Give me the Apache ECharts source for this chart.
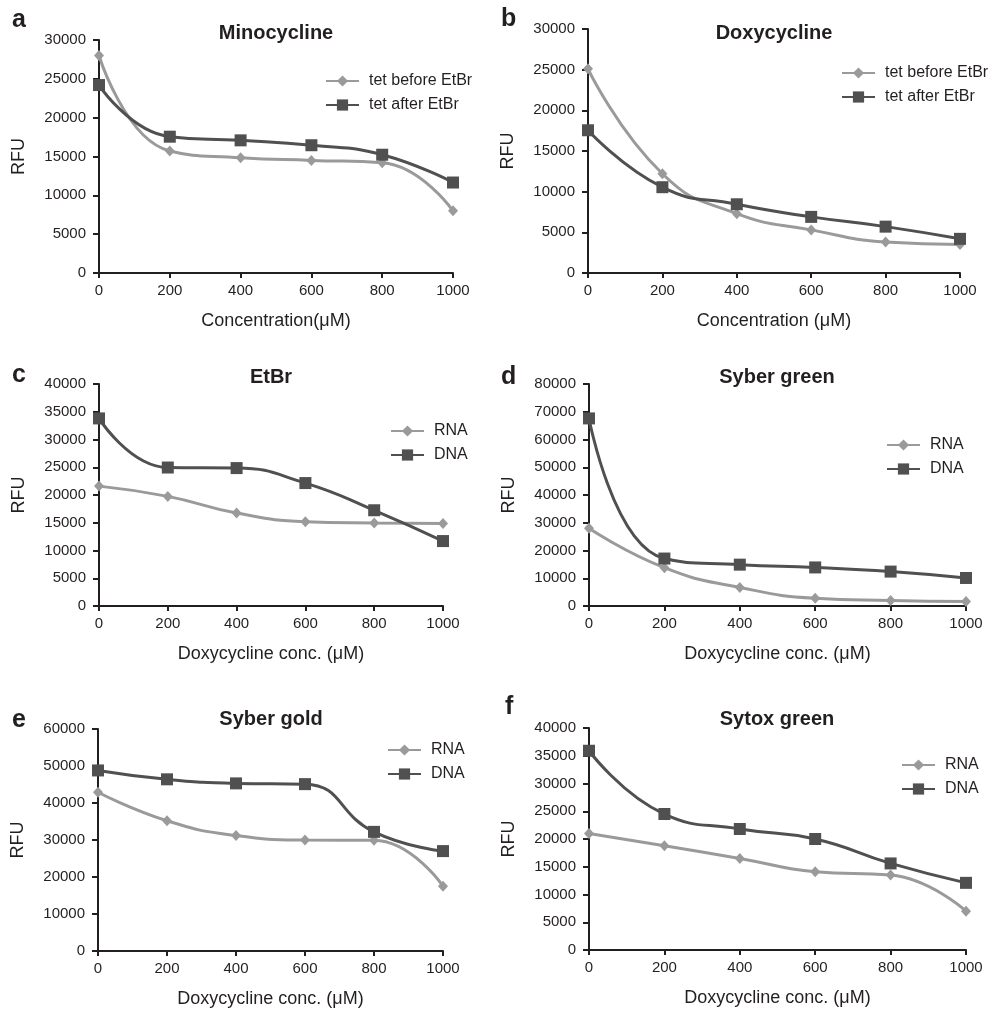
<!DOCTYPE html>
<html>
<head>
<meta charset="utf-8">
<script src="https://cdn.jsdelivr.net/npm/echarts@6/dist/echarts.min.js"></script>
<style>
  html, body { margin: 0; padding: 0; background: #fff; }
  #chart { width: 988px; height: 1009px; }
</style>
</head>
<body>
<div id="chart"></div>
<script>
// concentrations on the x axis (µM)
const conc = [0, 200, 400, 600, 800, 1000]

// a - Minocycline
const minoBefore = [28000, 15700, 14850, 14500, 14200, 8000]
const minoAfter = [24200, 17550, 17080, 16450, 15230, 11650]
// b - Doxycycline
const doxyBefore = [25100, 12200, 7300, 5300, 3800, 3500]
const doxyAfter = [17550, 10550, 8450, 6900, 5700, 4200]
// c - EtBr
const etbrRNA = [21600, 19750, 16750, 15200, 14950, 14850]
const etbrDNA = [33800, 24950, 24850, 22150, 17250, 11700]
// d - Syber green
const greenRNA = [28000, 13800, 6700, 2800, 2000, 1600]
const greenDNA = [67600, 17100, 14900, 13900, 12400, 10100]
// e - Syber gold
const goldRNA = [42900, 35200, 31200, 30000, 29900, 17500]
const goldDNA = [48800, 46400, 45300, 45100, 32200, 27000]
// f - Sytox green
const sytoxRNA = [21000, 18800, 16500, 14100, 13500, 7000]
const sytoxDNA = [35900, 24500, 21800, 20000, 15600, 12100]

const panels = [
  { letter: 'a', title: 'Minocycline', xName: 'Concentration(μM)', names: ['tet before EtBr', 'tet after EtBr'],
    data: [minoBefore, minoAfter], max: 30000, step: 5000,
    grid: { left: 99, top: 40, width: 354, height: 233 }, titleAt: [276, 33], letterAt: [12, 20], legendAt: [325, 73] },
  { letter: 'b', title: 'Doxycycline', xName: 'Concentration (μM)', names: ['tet before EtBr', 'tet after EtBr'],
    data: [doxyBefore, doxyAfter], max: 30000, step: 5000,
    grid: { left: 588, top: 29, width: 372, height: 244 }, titleAt: [774, 33], letterAt: [501, 19], legendAt: [841, 65] },
  { letter: 'c', title: 'EtBr', xName: 'Doxycycline conc. (μM)', names: ['RNA', 'DNA'],
    data: [etbrRNA, etbrDNA], max: 40000, step: 5000,
    grid: { left: 99, top: 384, width: 344, height: 222 }, titleAt: [271, 377], letterAt: [12, 375], legendAt: [390, 423] },
  { letter: 'd', title: 'Syber green', xName: 'Doxycycline conc. (μM)', names: ['RNA', 'DNA'],
    data: [greenRNA, greenDNA], max: 80000, step: 10000,
    grid: { left: 589, top: 384, width: 377, height: 222 }, titleAt: [777, 377], letterAt: [501, 377], legendAt: [886, 437] },
  { letter: 'e', title: 'Syber gold', xName: 'Doxycycline conc. (μM)', names: ['RNA', 'DNA'],
    data: [goldRNA, goldDNA], max: 60000, step: 10000,
    grid: { left: 98, top: 729, width: 345, height: 222 }, titleAt: [271, 719], letterAt: [12, 720], legendAt: [387, 742] },
  { letter: 'f', title: 'Sytox green', xName: 'Doxycycline conc. (μM)', names: ['RNA', 'DNA'],
    data: [sytoxRNA, sytoxDNA], max: 40000, step: 5000,
    grid: { left: 589, top: 728, width: 377, height: 222 }, titleAt: [777, 719], letterAt: [505, 707], legendAt: [901, 757] }
]

const font = 'Liberation Sans, Arial, Helvetica, sans-serif'
const ink = '#231f20'
const light = '#9a9a9a'
const dark = '#505050'

const option = {
  animation: false,
  backgroundColor: '#fff',
  textStyle: { fontFamily: font, color: ink },
  title: [],
  legend: [],
  grid: [],
  xAxis: [],
  yAxis: [],
  series: []
}

panels.forEach((p, i) => {
  option.grid.push(Object.assign({ containLabel: false }, p.grid))
  option.title.push({
    text: p.title, left: p.titleAt[0], top: p.titleAt[1], padding: 0,
    textAlign: 'center', textVerticalAlign: 'middle',
    textStyle: { fontFamily: font, fontSize: 20, fontWeight: 'bold', color: ink }
  })
  option.title.push({
    text: p.letter, left: p.letterAt[0], top: p.letterAt[1], padding: 0,
    textAlign: 'left', textVerticalAlign: 'middle',
    textStyle: { fontFamily: font, fontSize: 25, fontWeight: 'bold', color: ink }
  })
  option.legend.push({
    data: p.names, orient: 'vertical', left: p.legendAt[0], top: p.legendAt[1], padding: 0,
    itemWidth: 33, itemHeight: 14, itemGap: 8, selectedMode: false,
    textStyle: { fontFamily: font, fontSize: 16, color: ink, padding: [0, 0, 0, 5] }
  })
  option.xAxis.push({
    gridIndex: i, type: 'value', min: 0, max: 1000, interval: 200,
    name: p.xName, nameLocation: 'middle', nameGap: 39,
    nameTextStyle: { fontFamily: font, fontSize: 18, color: ink },
    axisLine: { show: true, onZero: false, lineStyle: { color: ink, width: 2 } },
    axisTick: { show: true, length: 5, lineStyle: { color: ink, width: 2 } },
    axisLabel: { fontFamily: font, fontSize: 15, color: ink, margin: 10, formatter: v => String(v) },
    splitLine: { show: false }
  })
  option.yAxis.push({
    gridIndex: i, type: 'value', min: 0, max: p.max, interval: p.step,
    name: 'RFU', nameLocation: 'middle', nameGap: 71,
    nameTextStyle: { fontFamily: font, fontSize: 18, color: ink },
    axisLine: { show: true, lineStyle: { color: ink, width: 2 } },
    axisTick: { show: true, length: 6, lineStyle: { color: ink, width: 2 } },
    axisLabel: { fontFamily: font, fontSize: 15, color: ink, margin: 13, formatter: v => String(v) },
    splitLine: { show: false }
  })
  p.data.forEach((vals, k) => {
    const col = k === 0 ? light : dark
    option.series.push({
      name: p.names[k], type: 'line', xAxisIndex: i, yAxisIndex: i,
      data: conc.map((c, j) => [c, vals[j]]),
      smooth: 0.5,
      symbol: k === 0 ? 'diamond' : 'rect',
      symbolSize: k === 0 ? [10, 11] : 12,
      itemStyle: { color: col },
      lineStyle: { color: col, width: 3 },
      z: 2 + k
    })
  })
})

const chart = echarts.init(document.getElementById('chart'), null, { renderer: 'canvas' })
chart.setOption(option)
</script>
</body>
</html>
